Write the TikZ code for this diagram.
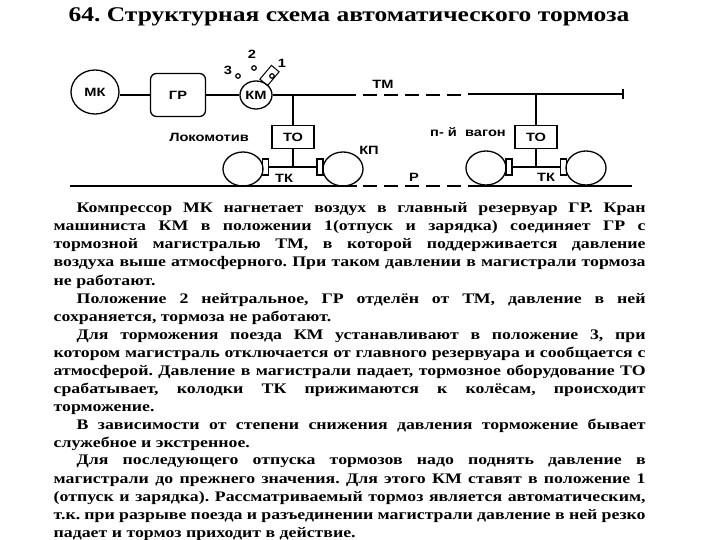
\documentclass[tikz,border=0pt]{standalone}
\usepackage{fontspec}
\setmainfont[FakeStretch=1.22]{Liberation Serif}
\setsansfont[FakeStretch=1.22]{Liberation Sans}
\usetikzlibrary{positioning, shapes.geometric}
\tikzset{
  every picture/.style={x=1pt, y=-1pt, line width=1.3pt},
  lbl/.style={font=\sffamily\bfseries\fontsize{12}{14}\selectfont, inner sep=0pt},
  compbox/.style={draw, rounded corners=#1, inner sep=0pt},
  compbox/.default=0pt,
  wheel/.style={draw, ellipse, minimum width=40pt, minimum height=34pt, inner sep=0pt},
  shoe/.style={draw, minimum width=6pt, minimum height=16pt, inner sep=0pt},
  port/.style={draw, circle, line width=1.2pt, minimum size=4.5pt, inner sep=0pt},
  brk/.style={dash pattern=on 14pt off 7pt},
  txt/.style={font=\bfseries\fontsize{14.6}{16}\selectfont\frenchspacing, anchor=base west, inner sep=0pt},
}
\begin{document}
\begin{tikzpicture}
  \useasboundingbox (0,0) rectangle (720,540);
  \node[name=title, font=\bfseries\fontsize{20.9}{24}\selectfont\frenchspacing, anchor=base west, inner sep=0pt] at (68,22) {64. Структурная схема автоматического тормоза};
  % locomotive
  \node[draw, ellipse, name=mk, minimum width=48pt, minimum height=44pt, inner sep=0pt, lbl] at (95,92) {МК};
  \node[compbox=6pt, name=gr, minimum width=55pt, minimum height=43pt, lbl] at (178,95) {ГР};
  \node[draw, ellipse, name=km, minimum width=32pt, minimum height=28pt, inner sep=0pt, lbl] at (256,95) {КМ};
  \node[compbox, name=to1, minimum width=42pt, minimum height=23pt, lbl] at (293,137) {ТО};
  \node[wheel, name=w1] at (243,169) {};
  \node[wheel, name=w2] at (343,169) {};
  \node[shoe, name=s1] at (265.5,167) {};
  \node[shoe, name=s2] at (320,167) {};
  \coordinate (j1) at (to1.south |- s1.east);
  \coordinate (t1) at (to1.north |- km.east);
  % wagon
  \node[compbox, name=to2, minimum width=42pt, minimum height=23pt, lbl] at (536,137) {ТО};
  \node[wheel, name=w3] at (486,168) {};
  \node[wheel, name=w4] at (586,168) {};
  \node[shoe, name=s3] at (509,167) {};
  \node[shoe, name=s4] at (563.5,167) {};
  \coordinate (j2) at (to2.south |- s3.east);
  \coordinate (tmend) at (623,94);
  \coordinate (t2) at (to2.north |- tmend);
  % lines
  \draw (gr.west -| mk.east) -- (gr.west);
  \draw (gr) -- (km);
  \draw (km) -- (t1);
  \draw (t1) -- (to1);
  \draw (to1) -- (j1);
  \draw (s1) -- (s2);
  \draw (to2) -- (t2);
  \draw (to2) -- (j2);
  \draw (s3) -- (s4);
  % TM with break
  \coordinate (tma) at (356,95);
  \coordinate (tmb) at (363,95);
  \coordinate (tmc) at (462,95);
  \coordinate (tmd) at (468,94);
  \coordinate (tmt) at (623,89);
  \coordinate (tmu) at (623,99);
  \draw (t1) -- (tma);
  \draw[brk] (tmb) -- (tmc);
  \draw (tmd) -- (tmend);
  \draw (tmt) -- (tmu);
  % rail
  \coordinate (ra) at (70,186);
  \coordinate (rb) at (357,186);
  \coordinate (rc) at (363,186);
  \coordinate (rd) at (462,186);
  \coordinate (re) at (468,186);
  \coordinate (rf) at (632,186);
  \draw (ra) -- (rb);
  \draw[brk] (rc) -- (rd);
  \draw (re) -- (rf);
  % handle
  \node[draw, rotate=50, name=hnd, minimum width=18pt, minimum height=10pt, inner sep=0pt, line width=1pt] at (269.5,75.5) {};
  \node[port, name=p1] at (272,76) {};
  \node[port, name=p2] at (254,68) {};
  \node[port, name=p3] at (238,76) {};
  \node[lbl, name=n1] at (282,63) {1};
  \node[lbl, name=n2] at (252,54) {2};
  \node[lbl, name=n3] at (228,70) {3};
  % labels
  \node[lbl, name=lok] at (209,137) {Локомотив};
  \node[lbl, name=tm] at (383,84) {ТМ};
  \node[lbl, name=wag] at (468,132) {п- й\ \ вагон};
  \node[lbl, name=kp] at (369,150) {КП};
  \node[lbl, name=rl] at (414,177) {Р};
  \node[lbl, name=tk1] at (284,178) {ТК};
  \node[lbl, name=tk2] at (546,177) {ТК};
  % text
  \foreach \y/\x/\w/\t in {
    212/76/569/{Компрессор МК нагнетает воздух в главный резервуар ГР. Кран},
    230/53/592/{машиниста КМ в положении 1(отпуск и зарядка) соединяет ГР с},
    248/53/592/{тормозной магистралью ТМ, в которой поддерживается давление},
    266/53/592/{воздуха выше атмосферного. При таком давлении в магистрали тормоза},
    285/53/0/{не работают.},
    303/76/569/{Положение 2 нейтральное, ГР отделён от ТМ, давление в ней},
    321/53/0/{сохраняется, тормоза не работают.},
    339/76/569/{Для торможения поезда КМ устанавливают в положение 3, при},
    357/53/592/{котором магистраль отключается от главного резервуара и сообщается с},
    375/53/592/{атмосферой. Давление в магистрали падает, тормозное оборудование ТО},
    393/53/592/{срабатывает, колодки ТК прижимаются к колёсам, происходит},
    411/53/0/{торможение.},
    429/76/569/{В зависимости от степени снижения давления торможение бывает},
    447/53/0/{служебное и экстренное.},
    464/76/569/{Для последующего отпуска тормозов надо поднять давление в},
    483/53/592/{магистрали до прежнего значения. Для этого КМ ставят в положение 1},
    501/53/592/{(отпуск и зарядка). Рассматриваемый тормоз является автоматическим,},
    519/53/592/{т.к. при разрыве поезда и разъединении магистрали давление в ней резко},
    537/53/0/{падает и тормоз приходит в действие.}} {
    \ifnum\w=0
      \node[txt, name=line\y] at (\x,\y) {\t};
    \else
      \node[txt, name=line\y] at (\x,\y) {\makebox[\w pt][s]{\t}};
    \fi
  }
\end{tikzpicture}
\end{document}
